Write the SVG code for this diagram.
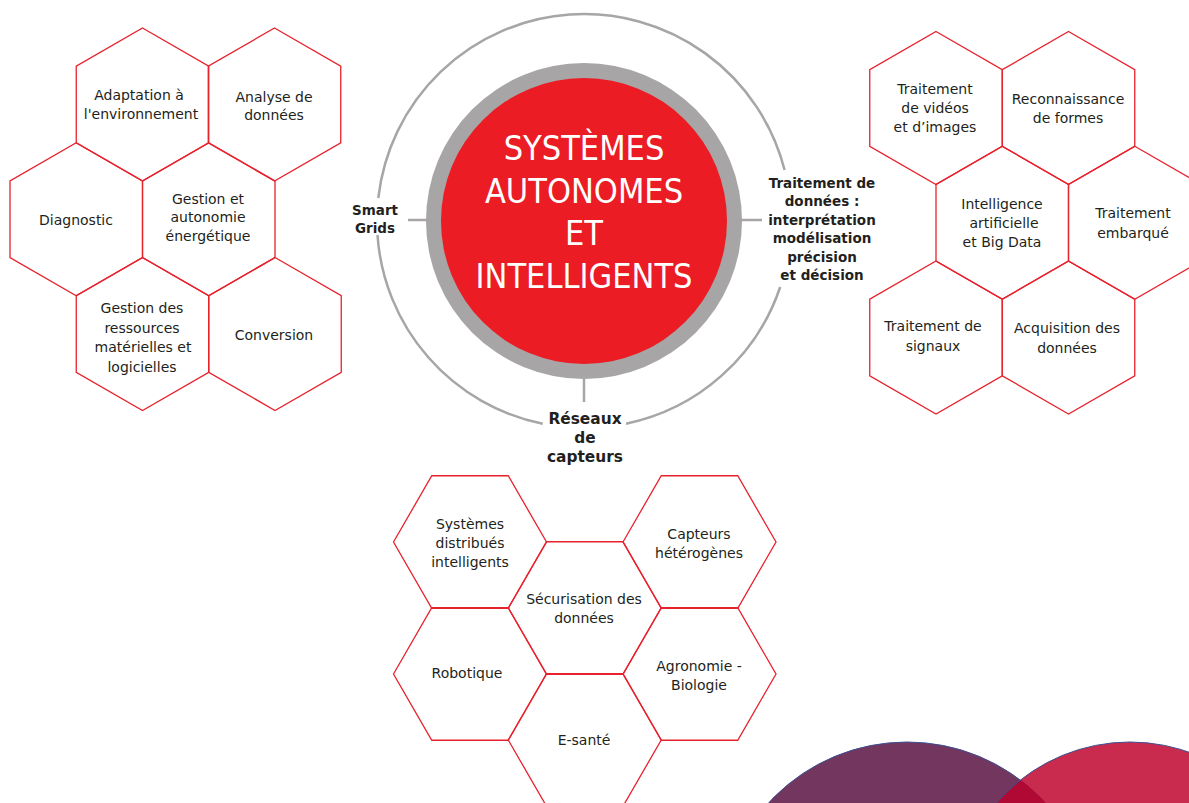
<svg xmlns="http://www.w3.org/2000/svg" xmlns:xlink="http://www.w3.org/1999/xlink" width="1189" height="803" viewBox="0 0 1189 803">
<style>
.hex{fill:none;stroke:#e8222d;stroke-width:1.3}
.t{font-family:"DejaVu Sans","Verdana",sans-serif;font-size:14px;fill:#231f20;text-anchor:middle}
.b{font-family:"DejaVu Sans","Verdana",sans-serif;font-weight:bold;font-size:13.5px;fill:#231f20;text-anchor:middle}
.title{font-family:"DejaVu Sans Condensed","Open Sans",sans-serif;font-stretch:condensed;font-size:34px;fill:#ffffff;text-anchor:middle}
.ring{fill:none;stroke:#a7a5a6;stroke-width:2.5}
.conn{stroke:#a7a5a6;stroke-width:2.5}
</style>
<defs>
<polygon id="hp" class="hex" points="0,-76.5 66.25,-38.25 66.25,38.25 0,76.5 -66.25,38.25 -66.25,-38.25"/>
<polygon id="hf" class="hex" points="-76.5,0 -38.25,-66.25 38.25,-66.25 76.5,0 38.25,66.25 -38.25,66.25"/>
</defs>

<g id="deco">
<circle cx="907" cy="930" r="188" fill="#72365f" stroke="#3d4f8f" stroke-width="1"/>
<circle cx="1130" cy="919" r="177" fill="#bd002a" fill-opacity="0.83" stroke="#3d4f8f" stroke-width="1"/>
</g>

<g id="center">
<circle cx="584" cy="221" r="158" fill="#a7a5a6"/>
<circle cx="584" cy="221" r="143" fill="#ec1c24"/>
<text class="title" x="584" y="160">SYSTÈMES</text>
<text class="title" x="584" y="202.5">AUTONOMES</text>
<text class="title" x="584" y="245">ET</text>
<text class="title" x="584" y="287.5">INTELLIGENTS</text>
</g>

<g id="connectors">
<path class="ring" d="M378.3 198 A207 207 0 0 1 784.6 170"/>
<path class="ring" d="M780.2 287 A207 207 0 0 1 626 423.7"/>
<path class="ring" d="M542.7 423.8 A207 207 0 0 1 377.5 235"/>
<line class="conn" x1="408" y1="220" x2="427" y2="220"/>
<line class="conn" x1="741" y1="220" x2="762" y2="220"/>
<line class="conn" x1="584" y1="378" x2="584" y2="402"/>
</g>

<g id="label-smart-grids">
<text class="b" x="375" y="215">Smart</text>
<text class="b" x="375" y="233">Grids</text>
</g>
<g id="label-traitement">
<text class="b" x="822" y="187.5">Traitement de</text>
<text class="b" x="822" y="206">données :</text>
<text class="b" x="822" y="224.5">interprétation</text>
<text class="b" x="822" y="243">modélisation</text>
<text class="b" x="822" y="261.5">précision</text>
<text class="b" x="822" y="280">et décision</text>
</g>
<g id="label-reseaux" style="font-size:15.4px">
<text class="b" x="585" y="423.5" style="font-size:15.4px">Réseaux</text>
<text class="b" x="585" y="442.5" style="font-size:15.4px">de</text>
<text class="b" x="585" y="461.5" style="font-size:15.4px">capteurs</text>
</g>

<!-- left cluster -->
<g id="n-adaptation"><use xlink:href="#hp" x="142.5" y="104.5"/>
<text class="t" x="139" y="100">Adaptation à</text><text class="t" x="141" y="118.5">l'environnement</text></g>
<g id="n-analyse"><use xlink:href="#hp" x="274.5" y="104.5"/>
<text class="t" x="274" y="101.5">Analyse de</text><text class="t" x="274" y="120">données</text></g>
<g id="n-diagnostic"><use xlink:href="#hp" x="76.25" y="219.25"/>
<text class="t" x="76" y="225">Diagnostic</text></g>
<g id="n-gestion-energie"><use xlink:href="#hp" x="208.75" y="219.25"/>
<text class="t" x="208" y="203.5">Gestion et</text><text class="t" x="208" y="222">autonomie</text><text class="t" x="208" y="240.5">énergétique</text></g>
<g id="n-gestion-ressources"><use xlink:href="#hp" x="142.5" y="334"/>
<text class="t" x="142" y="313">Gestion des</text><text class="t" x="142" y="332.5">ressources</text><text class="t" x="143" y="352">matérielles et</text><text class="t" x="142" y="371.5">logicielles</text></g>
<g id="n-conversion"><use xlink:href="#hp" x="275" y="334"/>
<text class="t" x="274" y="340">Conversion</text></g>

<!-- right cluster -->
<g id="n-video"><use xlink:href="#hp" x="936" y="108"/>
<text class="t" x="935" y="94">Traitement</text><text class="t" x="935" y="113">de vidéos</text><text class="t" x="935" y="132">et d’images</text></g>
<g id="n-formes"><use xlink:href="#hp" x="1068.5" y="108"/>
<text class="t" x="1068" y="104">Reconnaissance</text><text class="t" x="1068" y="123">de formes</text></g>
<g id="n-ia"><use xlink:href="#hp" x="1002.25" y="222.75"/>
<text class="t" x="1002" y="209">Intelligence</text><text class="t" x="1004" y="228">artificielle</text><text class="t" x="1002" y="247">et Big Data</text></g>
<g id="n-embarque"><use xlink:href="#hp" x="1134.75" y="222.75"/>
<text class="t" x="1133" y="218">Traitement</text><text class="t" x="1133" y="238">embarqué</text></g>
<g id="n-signaux"><use xlink:href="#hp" x="936" y="337.5"/>
<text class="t" x="933" y="331">Traitement de</text><text class="t" x="933" y="350.5">signaux</text></g>
<g id="n-acquisition"><use xlink:href="#hp" x="1068.5" y="337.5"/>
<text class="t" x="1067" y="333">Acquisition des</text><text class="t" x="1067" y="352.5">données</text></g>

<!-- bottom cluster -->
<g id="n-distribues"><use xlink:href="#hf" x="470" y="542"/>
<text class="t" x="470" y="529">Systèmes</text><text class="t" x="470" y="548">distribués</text><text class="t" x="470" y="567">intelligents</text></g>
<g id="n-capteurs"><use xlink:href="#hf" x="699.5" y="542"/>
<text class="t" x="699" y="539">Capteurs</text><text class="t" x="699" y="558">hétérogènes</text></g>
<g id="n-securisation"><use xlink:href="#hf" x="584.75" y="608"/>
<text class="t" x="584" y="604">Sécurisation des</text><text class="t" x="584" y="623">données</text></g>
<g id="n-robotique"><use xlink:href="#hf" x="470" y="674"/>
<text class="t" x="467" y="678">Robotique</text></g>
<g id="n-agronomie"><use xlink:href="#hf" x="699.5" y="674"/>
<text class="t" x="699" y="671">Agronomie -</text><text class="t" x="699" y="690">Biologie</text></g>
<g id="n-esante"><use xlink:href="#hf" x="584.75" y="740"/>
<text class="t" x="584" y="745">E-santé</text></g>
</svg>
